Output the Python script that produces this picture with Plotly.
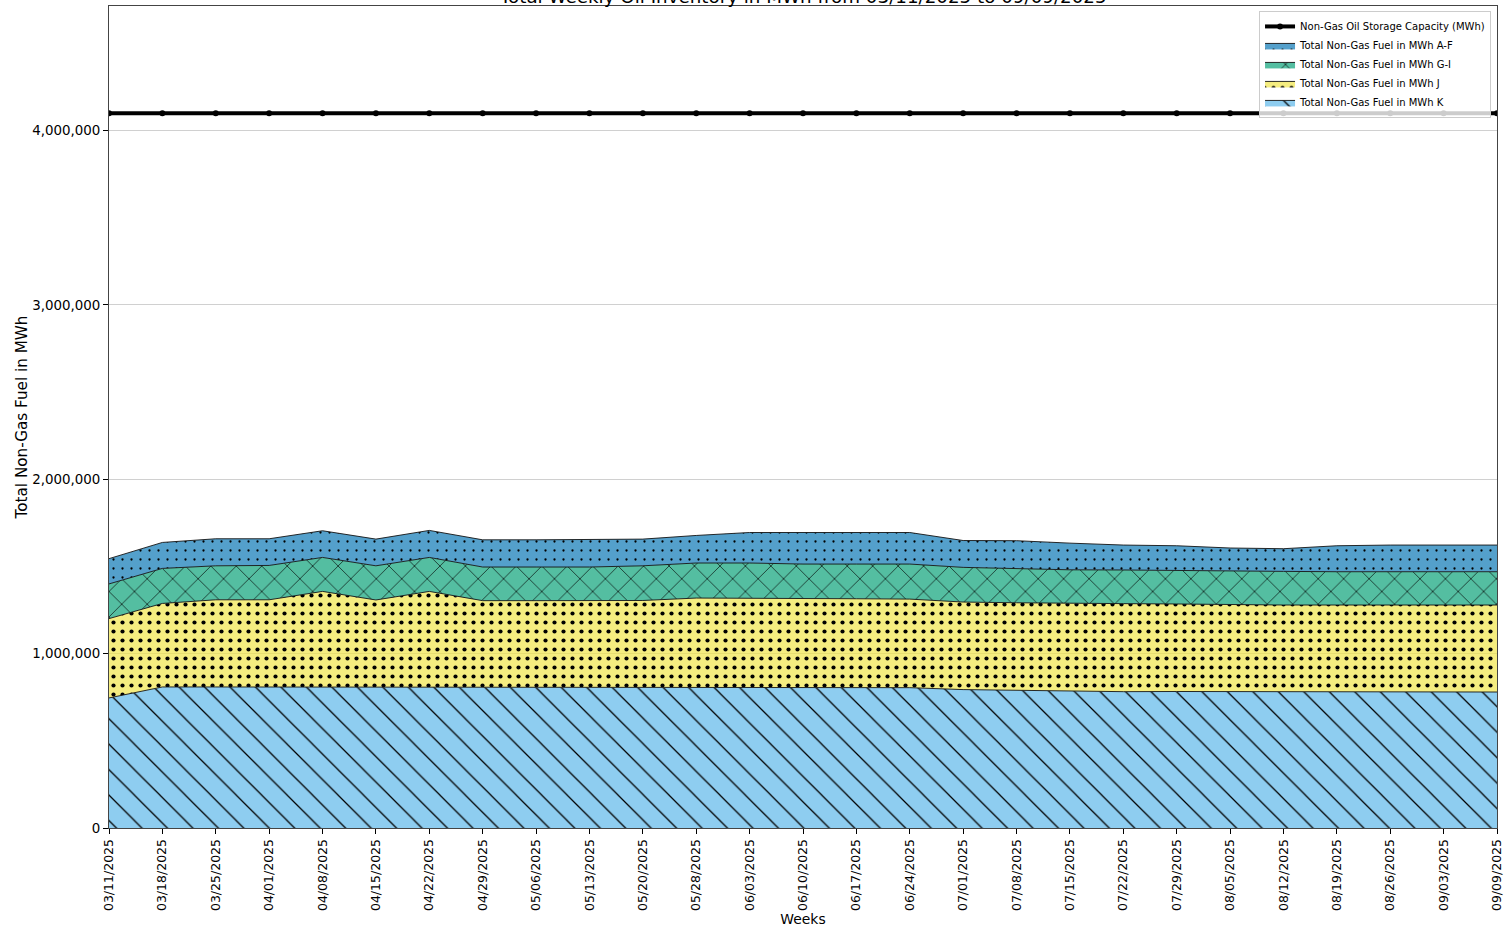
import plotly.graph_objects as go

# Weekly reporting dates
weeks = [
    "03/11/2025", "03/18/2025", "03/25/2025", "04/01/2025", "04/08/2025",
    "04/15/2025", "04/22/2025", "04/29/2025", "05/06/2025", "05/13/2025",
    "05/20/2025", "05/28/2025", "06/03/2025", "06/10/2025", "06/17/2025",
    "06/24/2025", "07/01/2025", "07/08/2025", "07/15/2025", "07/22/2025",
    "07/29/2025", "08/05/2025", "08/12/2025", "08/19/2025", "08/26/2025",
    "09/03/2025", "09/09/2025",
]

# Non-gas fuel inventory by zone group (MWh)
fuel_k = [746000, 809000, 809000, 809000, 809000, 809000, 809000, 809000, 809000,
          809000, 809000, 809000, 808000, 806000, 806000, 805000, 794000, 790000,
          784000, 782000, 783000, 782000, 780000, 780000, 780000, 780000, 780000]
fuel_j = [455000, 479000, 500000, 500000, 548000, 499000, 548000, 495000, 495000,
          495000, 496000, 510000, 511000, 511000, 509000, 508000, 502000, 502000,
          504000, 505000, 502000, 499000, 499000, 499000, 499000, 499000, 499000]
fuel_gi = [199000, 201000, 195000, 197000, 195000, 196000, 195000, 193000, 193000,
           193000, 199000, 201000, 201000, 197000, 199000, 201000, 199000, 197000,
           193000, 193000, 191000, 191000, 193000, 191000, 191000, 191000, 191000]
fuel_af = [145000, 149000, 155000, 153000, 153000, 153000, 155000, 156000, 156000,
           156000, 153000, 158000, 175000, 181000, 181000, 181000, 154000, 159000,
           153000, 143000, 143000, 134000, 130000, 149000, 153000, 153000, 153000]

# Oil storage capacity (MWh)
capacity = [4100000, 4100000, 4100000, 4100000, 4100000, 4100000, 4100000, 4100000,
            4100000, 4100000, 4100000, 4100000, 4100000, 4100000, 4100000, 4100000,
            4100000, 4100000, 4100000, 4100000, 4100000, 4100000, 4100000, 4100000,
            4100000, 4100000, 4100000]

FONT = "DejaVu Sans"

fig = go.Figure()

# Stacked areas, bottom to top
layers = [
    ("Total Non-Gas Fuel in MWh K", fuel_k, "rgba(86,180,233,0.67)", "\\", 18, 0.07, 5),
    ("Total Non-Gas Fuel in MWh J", fuel_j, "rgba(240,228,66,0.67)", ".", 9, 0.17, 4),
    ("Total Non-Gas Fuel in MWh G-I", fuel_gi, "rgba(0,158,115,0.67)", "x", 18, 0.07, 3),
    ("Total Non-Gas Fuel in MWh A-F", fuel_af, "rgba(0,114,178,0.67)", ".", 9, 0.05, 2),
]
for i, (name, vals, color, shape, size, solidity, rank) in enumerate(layers):
    fig.add_trace(go.Scatter(
        x=weeks, y=vals, name=name, mode="lines",
        stackgroup="fuel",
        fill="tozeroy" if i == 0 else "tonexty",
        fillcolor=color,
        fillpattern=dict(shape=shape, size=size, solidity=solidity,
                         fgcolor="black", bgcolor=color, fgopacity=1),
        line=dict(color="rgba(20,20,20,0.9)", width=1),
        legendrank=rank,
    ))

fig.add_trace(go.Scatter(
    x=weeks, y=capacity, name="Non-Gas Oil Storage Capacity (MWh)",
    mode="lines+markers",
    line=dict(color="black", width=4),
    marker=dict(color="black", size=6),
    legendrank=1,
))

fig.add_annotation(
    text="Total Weekly Oil Inventory in MWh from 03/11/2025 to 09/09/2025",
    xref="paper", yref="paper", x=0.5, y=1.0, xanchor="center", yanchor="bottom",
    yshift=-3,
    showarrow=False, font=dict(family=FONT, size=18.3, color="black"),
)

fig.update_layout(
    width=1505, height=928,
    margin=dict(l=109, r=8, t=6, b=100),
    paper_bgcolor="white", plot_bgcolor="white",
    font=dict(family=FONT, color="black"),
    showlegend=True,
    legend=dict(
        x=0.9957, y=0.994, xanchor="right", yanchor="top",
        traceorder="normal",
        bgcolor="rgba(255,255,255,0.8)", bordercolor="#cccccc", borderwidth=1,
        font=dict(family=FONT, size=10, color="black"),
        tracegroupgap=0,
    ),
)

fig.update_xaxes(
    type="category", range=[0, len(weeks) - 1], automargin=False,
    title=dict(text="Weeks", font=dict(family=FONT, size=13.9), standoff=4),
    tickangle=-90, tickfont=dict(family=FONT, size=12.5),
    ticks="outside", ticklen=5, tickcolor="black",
    showline=True, linecolor="#444444", linewidth=1, mirror=True,
    showgrid=False, zeroline=False,
)
fig.update_yaxes(
    range=[0, 4715000], tickvals=[0, 1000000, 2000000, 3000000, 4000000],
    tickformat=",d", automargin=False,
    title=dict(text="Total Non-Gas Fuel in MWh", font=dict(family=FONT, size=15.2), standoff=0),
    tickfont=dict(family=FONT, size=13.4),
    ticks="outside", ticklen=5, tickcolor="black",
    showline=True, linecolor="#444444", linewidth=1, mirror=True,
    showgrid=True, gridcolor="#d0d0d0", gridwidth=1, zeroline=False,
)

fig.write_html("out.html")
